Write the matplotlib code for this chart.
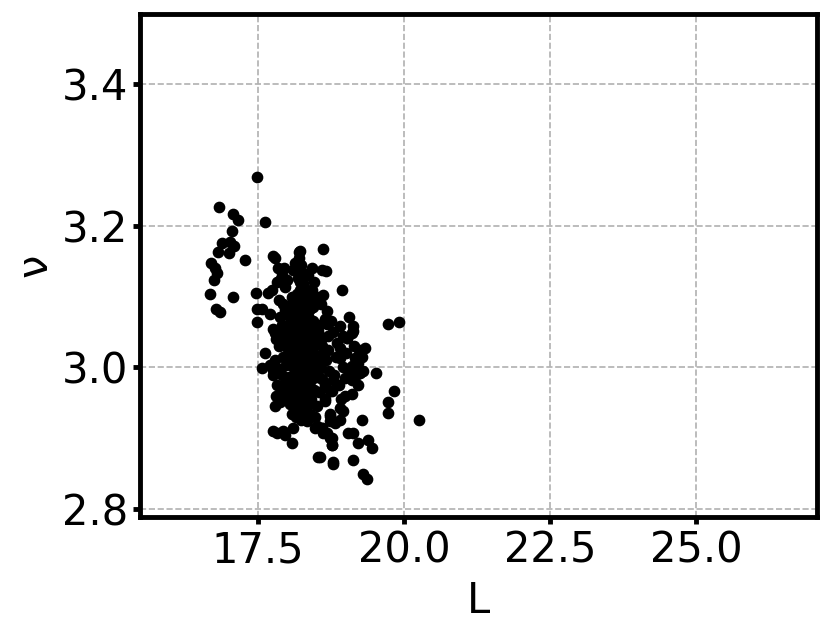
import matplotlib.pyplot as plt

# pontos isolados no canto superior esquerdo
L_esq = [17.48, 16.83, 17.07, 17.16, 17.62, 17.05, 16.88, 17.02, 16.82, 17.09,
         17.00, 17.28, 16.70, 16.76, 16.80, 16.75, 16.68, 17.07, 16.78, 16.85,
         17.47, 17.67, 17.48, 17.57, 17.48]
nu_esq = [3.269, 3.226, 3.216, 3.208, 3.206, 3.192, 3.175, 3.177, 3.163, 3.171,
          3.161, 3.151, 3.148, 3.140, 3.134, 3.124, 3.103, 3.100, 3.083, 3.078,
          3.105, 3.105, 3.082, 3.082, 3.064]

# bordas do aglomerado
L_borda = [17.76, 17.79, 18.20, 18.20, 18.21, 18.61, 17.84, 18.13, 18.18, 18.10,
           18.27, 18.42, 18.60, 18.66, 17.88, 18.00, 17.96, 18.18, 18.27, 18.22,
           18.34, 18.42, 18.39, 18.61, 18.94, 18.08, 18.08, 17.96, 18.17, 18.34,
           18.44, 17.93, 18.01, 17.88, 17.76, 18.00, 18.65, 18.68, 18.90, 19.06,
           19.13, 19.13, 19.02, 18.53, 18.60, 17.79, 17.93, 17.62, 17.71, 17.57,
           17.76, 17.83, 18.00, 18.10, 17.79, 17.88, 18.22, 18.34, 18.65, 18.77,
           18.60, 18.78, 18.08, 18.34, 17.76, 17.93, 17.83, 17.96, 18.08, 18.51,
           18.60, 18.73, 18.82, 18.10, 18.48, 18.61, 18.73, 18.77, 18.53, 18.78]
nu_borda = [3.158, 3.155, 3.163, 3.155, 3.165, 3.167, 3.141, 3.148, 3.144, 3.137,
            3.134, 3.141, 3.137, 3.136, 3.123, 3.123, 3.113, 3.126, 3.119, 3.109,
            3.109, 3.109, 3.098, 3.102, 3.110, 3.099, 3.090, 3.081, 3.081, 3.078,
            3.085, 3.090, 3.085, 3.071, 3.055, 3.059, 3.069, 3.062, 3.059, 3.071,
            3.058, 3.052, 3.042, 3.052, 3.042, 3.048, 3.038, 3.020, 3.003, 2.999,
            2.996, 2.975, 2.963, 2.963, 2.946, 2.951, 2.951, 2.946, 2.956, 2.967,
            2.984, 2.982, 2.935, 2.925, 2.911, 2.911, 2.907, 2.904, 2.894, 2.918,
            2.915, 2.932, 2.922, 2.915, 2.915, 2.908, 2.901, 2.890, 2.873, 2.866]

# cauda a direita
L_dir = [19.11, 19.02, 19.33, 18.90, 19.25, 19.16, 18.90, 19.21, 19.52, 19.25,
         19.04, 19.11, 19.83, 19.21, 18.73, 18.99, 19.11, 19.73, 19.73, 18.65,
         18.90, 18.96, 18.73, 18.90, 18.73, 19.28, 20.26, 18.60, 18.68, 18.77,
         19.04, 19.13, 19.21, 19.38, 19.45, 18.77, 18.56, 18.78, 19.13, 19.30,
         19.37, 19.73, 19.91]
nu_dir = [3.049, 3.041, 3.028, 3.027, 3.017, 3.014, 3.013, 3.007, 2.992, 2.992,
          2.986, 2.982, 2.967, 2.975, 2.967, 2.960, 2.963, 2.951, 2.936, 2.953,
          2.943, 2.939, 2.935, 2.926, 2.925, 2.926, 2.926, 2.914, 2.908, 2.901,
          2.907, 2.908, 2.893, 2.897, 2.886, 2.890, 2.873, 2.864, 2.870, 2.850,
          2.843, 3.061, 3.064]

# nucleo denso
L_nucleo = [18.02, 18.11, 18.19, 18.27, 18.35, 18.44, 18.05, 18.14, 18.22, 18.31,
            18.40, 18.49, 17.95, 18.08, 18.17, 18.25, 18.33, 18.42, 18.52, 17.98,
            18.10, 18.19, 18.28, 18.36, 18.45, 18.56, 18.01, 18.13, 18.21, 18.30,
            18.39, 18.48, 18.62, 17.92, 18.04, 18.16, 18.24, 18.33, 18.43, 18.54,
            17.97, 18.09, 18.18, 18.27, 18.36, 18.46, 18.58, 17.90, 18.02, 18.14,
            18.22, 18.31, 18.40, 18.51, 17.95, 18.07, 18.18, 18.26, 18.35, 18.45,
            18.12, 18.23, 18.32, 18.41, 18.05, 18.18, 18.28, 18.15, 18.24, 18.20,
            18.28, 18.12, 18.24, 18.33, 18.17, 18.27, 18.21, 18.24, 18.19, 18.23,
            18.15, 18.38, 18.08, 18.20, 18.23, 18.18, 18.26, 18.21, 18.13, 18.29,
            18.19, 18.24, 18.16, 18.30, 18.10, 18.00, 17.93, 17.88, 17.86, 17.90,
            17.85, 17.80, 18.55, 18.60, 18.66, 18.70, 18.72, 18.64, 18.55, 18.50,
            18.48, 18.38, 18.70, 18.78, 18.84, 18.80, 18.88, 18.95, 19.00, 19.05,
            19.10, 18.98, 18.92, 19.18, 19.28, 19.30, 19.22, 19.15, 18.85, 18.95,
            18.75, 18.68, 18.58, 18.50, 18.45, 18.35, 18.40, 17.75, 17.80, 17.78,
            17.70, 17.73, 17.82, 17.90, 17.95]
nu_nucleo = [3.072, 3.068, 3.075, 3.070, 3.073, 3.066, 3.061, 3.058, 3.063, 3.057,
             3.060, 3.055, 3.050, 3.047, 3.052, 3.045, 3.049, 3.043, 3.046, 3.038,
             3.035, 3.040, 3.033, 3.037, 3.030, 3.034, 3.026, 3.023, 3.028, 3.021,
             3.025, 3.018, 3.022, 3.015, 3.012, 3.016, 3.010, 3.013, 3.007, 3.011,
             3.003, 3.000, 3.005, 2.998, 3.001, 2.995, 2.999, 2.990, 2.987, 2.992,
             2.985, 2.989, 2.982, 2.986, 2.976, 2.973, 2.978, 2.971, 2.975, 2.968,
             2.960, 2.957, 2.962, 2.955, 2.948, 2.944, 2.940, 2.930, 2.926, 3.082,
             3.088, 3.093, 3.097, 3.092, 3.104, 3.110, 3.120, 3.128, 3.137, 3.145,
             3.080, 3.082, 3.077, 3.050, 3.035, 3.020, 3.018, 3.000, 3.008, 3.006,
             2.993, 2.978, 2.968, 2.950, 2.983, 2.960, 2.965, 2.998, 3.030, 3.060,
             3.095, 3.040, 3.060, 3.030, 3.010, 3.045, 2.995, 2.975, 2.965, 2.945,
             2.930, 2.935, 3.025, 3.050, 3.015, 2.990, 2.975, 3.000, 3.020, 2.995,
             3.002, 2.985, 2.955, 2.990, 3.015, 2.995, 3.025, 3.030, 3.035, 3.045,
             3.065, 3.080, 3.090, 3.100, 3.120, 3.130, 3.095, 2.990, 2.960, 3.010,
             3.075, 3.110, 3.120, 3.130, 3.140]

L = L_esq + L_borda + L_dir + L_nucleo
nu = nu_esq + nu_borda + nu_dir + nu_nucleo

fig = plt.figure(figsize=(8.3, 6.32), dpi=100)
ax = fig.add_axes([0.169, 0.182, 0.815, 0.796])

ax.scatter(L, nu, s=55, color='black', zorder=3)

ax.set_xlim(15.48, 27.07)
ax.set_ylim(2.789, 3.499)
ax.set_xticks([17.5, 20.0, 22.5, 25.0])
ax.set_yticks([2.8, 3.0, 3.2, 3.4])

ax.grid(True, linestyle='--', color='#b0b0b0', linewidth=1.2)
ax.set_axisbelow(True)

for sp in ax.spines.values():
    sp.set_linewidth(3.5)
ax.tick_params(axis='both', labelsize=30, width=3.5, length=5, pad=4)

ax.set_xlabel('L', fontsize=30, labelpad=6)
ax.set_ylabel('ν', fontsize=30, labelpad=4)

plt.savefig('out.png', dpi=100)
